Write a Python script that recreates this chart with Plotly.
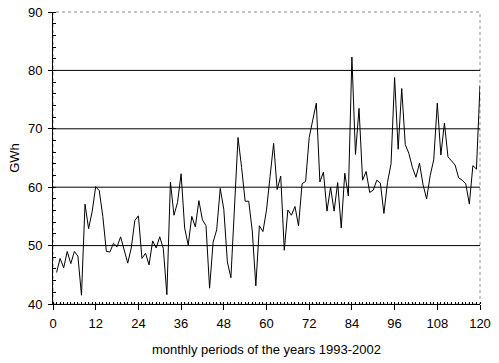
import plotly.graph_objects as go

months = list(range(1, 121))
gwh = [
    45.4, 47.8, 46.2, 49.0, 46.9, 49.0, 48.2, 41.5, 57.1, 52.9,
    55.8, 60.1, 59.4, 55.0, 49.0, 48.9, 50.4, 49.8, 51.5, 49.2,
    47.0, 49.6, 54.3, 55.1, 47.8, 48.7, 46.7, 50.8, 49.6, 51.5,
    49.5, 41.6, 60.9, 55.2, 57.4, 62.3, 53.0, 50.1, 55.0, 53.2,
    57.7, 54.4, 53.4, 42.7, 50.6, 52.7, 59.8, 56.2, 47.2, 44.5,
    56.5, 68.5, 63.4, 57.6, 57.6, 52.5, 43.1, 53.4, 52.4, 56.1,
    61.8, 67.5, 59.6, 61.9, 49.2, 56.1, 55.2, 56.7, 53.4, 60.6,
    61.0, 68.5, 71.5, 74.4, 60.9, 62.6, 55.9, 60.0, 55.9, 60.8,
    53.0, 62.4, 58.5, 82.3, 65.6, 73.5, 61.2, 62.7, 59.1, 59.5,
    61.2, 60.7, 55.5, 60.8, 64.0, 78.8, 66.5, 76.9, 67.3, 65.8,
    63.4, 61.7, 64.1, 60.4, 58.0, 62.0, 64.7, 74.4, 65.5, 71.0,
    65.2, 64.4, 63.8, 61.6, 61.2, 60.6, 57.1, 63.7, 63.1, 77.4,
]
x_ticks = list(range(0, 121, 12))
y_ticks = list(range(40, 91, 10))
grid_levels = [50, 60, 70, 80]

FONT = "Liberation Sans, Arial, sans-serif"

fig = go.Figure()
fig.add_trace(go.Scatter(
    x=months, y=gwh, mode="lines",
    line=dict(color="black", width=1),
    showlegend=False, hoverinfo="skip",
))

shapes = [
    dict(type="rect", xref="paper", yref="paper", x0=0, x1=1, y0=0, y1=1,
         line=dict(color="#8c8c8c", width=1, dash="dot"), layer="below"),
]
for g in grid_levels:
    shapes.append(dict(type="line", xref="paper", yref="y", x0=0, x1=1, y0=g, y1=g,
                       line=dict(color="black", width=1), layer="below"))

fig.update_layout(
    width=499, height=363,
    margin=dict(l=53, r=19, t=12, b=59),
    paper_bgcolor="white", plot_bgcolor="white",
    font=dict(family=FONT, size=13, color="black"),
    shapes=shapes,
    xaxis=dict(
        range=[0, 120], tickvals=x_ticks, ticks="outside", ticklen=5,
        tickcolor="black", showline=True, linecolor="black", linewidth=1,
        showgrid=False, zeroline=False, automargin=False, ticklabelstandoff=2,
        minor=dict(dtick=1, tick0=0, ticks="inside", ticklen=2, tickcolor="black", showgrid=False),
        title=dict(text="monthly periods of the years 1993-2002", font=dict(size=13)),
    ),
    yaxis=dict(
        range=[40, 90], tickvals=y_ticks, ticks="outside", ticklen=4,
        tickcolor="black", showline=True, linecolor="black", linewidth=1,
        showgrid=False, zeroline=False, automargin=False, ticklabelstandoff=3,
        minor=dict(dtick=2, tick0=40, ticks="inside", ticklen=3, tickcolor="black", showgrid=False),
        title=dict(text="GWh", font=dict(size=13), standoff=5),
    ),
)

fig.write_html("out.html", config={"displayModeBar": False},
               post_script="document.body.style.margin='0px';")
